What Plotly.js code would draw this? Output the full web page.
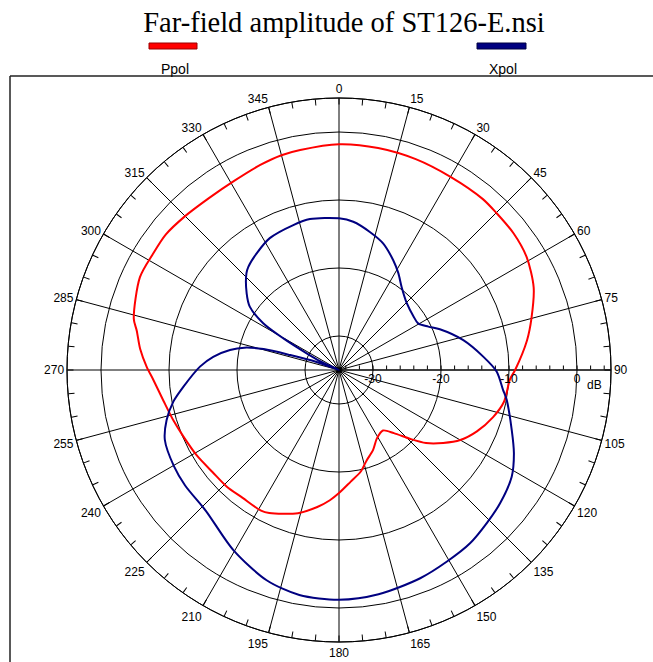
<!DOCTYPE html>
<html>
<head>
<meta charset="utf-8">
<script src="https://cdn.plot.ly/plotly-3.0.1.min.js"></script>
<style>html,body{margin:0;padding:0;background:#fff;}#chart{width:653px;height:662px;}</style>
</head>
<body>
<div id="chart"></div>
<script>
// ---- data ----
const ppolTheta = [0,10,20,30,40,45,52,59,67,75,81,90,93,101,107,114,120,125,130,134,139,144,151,157,163,168,174,180,184,189,196,206,209,217,224,231,239,247,253,260,267,271,276,281,284,295,302,308,315,323,331,339,345,350,360];
const ppolDb = [-1.8,-1.85,-2.0,-2.2,-2.15,-2.3,-2.4,-2.8,-3.9,-5.7,-7.0,-9.1,-9.8,-10.3,-11.3,-12.8,-14.4,-16.3,-18.3,-20.4,-22.7,-24.0,-23.5,-22.2,-21.1,-19.7,-18.5,-16.9,-15.8,-14.6,-13.1,-11.6,-11.35,-11.45,-11.2,-11.1,-10.6,-10.1,-9.55,-8.8,-7.65,-6.7,-5.6,-4.7,-3.9,-2.7,-2.75,-2.66,-3.0,-3.3,-3.2,-2.7,-2.3,-2.15,-1.8];

const xpolTheta = [0,5.5,12.6,19.3,26.3,31.5,37,45.4,54.3,59.5,64.1,68,76.5,84.7,90.6,96.9,100.1,109.2,115.5,121.7,129.6,136.1,142.9,150.7,158.7,170,180,190,199,210.4,223.4,233.1,239.7,248.1,253.8,259.2,263.9,271.4,276,280.4,283.3,285.5,287,289.5,292,295,297.3,299.6,301.7,305.4,309.7,316.3,318.7,324.8,332.3,342.5,349.1,360];
const xpolDb = [-12.7,-13.1,-14.2,-15.3,-17.0,-18.3,-19.7,-21.0,-21.5,-21.5,-20.4,-19.0,-16.2,-13.7,-11.8,-10.7,-9.95,-8.1,-6.5,-5.15,-4.26,-3.7,-3.05,-2.66,-2.13,-1.5,-1.2,-1.4,-2.3,-4.3,-6.5,-6.7,-6.9,-7.4,-8.6,-10.2,-12.0,-14.55,-16.4,-18.7,-20.7,-23.5,-27.5,-31.5,-35,-32,-29.65,-25.6,-21.9,-18.9,-17.35,-15.3,-14.8,-14.0,-13.1,-12.65,-12.4,-12.7];

const seriesNames = ['Ppol','Xpol'];
const seriesColors = ['#ff0000','#000080'];

// ---- axis ticks ----
const spokeAngles = [0,15,30,45,60,75,90,105,120,135,150,165,180,195,210,225,240,255,270,285,300,315,330,345];
const minorAngles = [0,5,10,15,20,25,30,35,40,45,50,55,60,65,70,75,80,85,90,95,100,105,110,115,120,125,130,135,140,145,150,155,160,165,170,175,180,185,190,195,200,205,210,215,220,225,230,235,240,245,250,255,260,265,270,275,280,285,290,295,300,305,310,315,320,325,330,335,340,345,350,355];
const minorAngleText = minorAngles.map(a => (a % 15 === 0 ? String(a) : ''));
const radialRange = [-35, 5];
const radialMajor = [-30, -20, -10, 0];
const radialMajorText = ['-30', '-20', '-10', '0'];
const radialMinor = [-34,-32,-30,-28,-26,-24,-22,-20,-18,-16,-14,-12,-10,-8,-6,-4,-2,0,2,4];

const W = 653, H = 662;
const px = x => x / W;
const py = y => 1 - y / H;
const dom = {x: [px(67), px(611)], y: [py(642), py(98)]};

const traces = [
  {type:'scatterpolar', subplot:'polar', r:[null], theta:[null], mode:'lines', hoverinfo:'skip', showlegend:false},
  {type:'scatterpolar', subplot:'polar2', name:seriesNames[0], r:ppolDb, theta:ppolTheta, mode:'lines',
   line:{color:seriesColors[0], width:2, shape:'spline', smoothing:0.8}},
  {type:'scatterpolar', subplot:'polar2', name:seriesNames[1], r:xpolDb, theta:xpolTheta, mode:'lines',
   line:{color:seriesColors[1], width:2, shape:'spline', smoothing:0.8}}
];

const tickFont = {family:'Liberation Sans, Arial, sans-serif', size:12, color:'#000'};
const legendFont = {family:'Liberation Sans Narrow, Liberation Sans, Arial, sans-serif', size:14, color:'#000'};

const layout = {
  width: W, height: H,
  margin: {l:0, r:0, t:0, b:0},
  paper_bgcolor: '#fff',
  showlegend: false,
  title: {text:'Far-field amplitude of ST126-E.nsi', font:{family:'Liberation Serif, Times New Roman, serif', size:28.5, color:'#000'},
          x: px(344), xanchor:'center', xref:'paper', y: py(22), yanchor:'middle', yref:'paper'},
  polar: {
    domain: dom, bgcolor:'#fff',
    angularaxis: {rotation:90, direction:'clockwise', tickmode:'array', tickvals:minorAngles, ticktext:minorAngleText,
                  ticks:'inside', ticklen:6, tickwidth:1, tickcolor:'#000', showgrid:false,
                  showline:true, linecolor:'#000', linewidth:1, tickfont:tickFont},
    radialaxis: {range:radialRange, angle:0, tickmode:'array', tickvals:radialMinor, ticks:'outside', ticklen:4,
                 tickcolor:'#000', showticklabels:false, showgrid:false, showline:true, linecolor:'#000', side:'counterclockwise'}
  },
  polar2: {
    domain: dom, bgcolor:'rgba(0,0,0,0)',
    angularaxis: {rotation:90, direction:'clockwise', tickmode:'array', tickvals:spokeAngles, showticklabels:false,
                  ticks:'', showgrid:true, gridcolor:'#000', gridwidth:1, showline:true, linecolor:'#000', linewidth:1},
    radialaxis: {range:radialRange, angle:0, tickmode:'array', tickvals:radialMajor, ticktext:radialMajorText, ticks:'',
                 showgrid:true, gridcolor:'#000', gridwidth:1, showline:false, side:'clockwise', tickfont:tickFont}
  },
  shapes: [
    {type:'line', xref:'paper', yref:'paper', x0:px(10), x1:1, y0:py(76), y1:py(76), line:{color:'#222', width:1.5}},
    {type:'line', xref:'paper', yref:'paper', x0:px(10), x1:px(10), y0:0, y1:py(76), line:{color:'#222', width:1.5}},
    {type:'rect', xref:'paper', yref:'paper', x0:px(149), x1:px(197), y0:py(49), y1:py(43), fillcolor:seriesColors[0], line:{color:'#900', width:1}},
    {type:'rect', xref:'paper', yref:'paper', x0:px(477), x1:px(526), y0:py(49), y1:py(43), fillcolor:seriesColors[1], line:{color:'#000040', width:1}}
  ],
  annotations: [
    {text:seriesNames[0], xref:'paper', yref:'paper', x:px(175), y:py(69), showarrow:false, xanchor:'center', yanchor:'middle', font:legendFont},
    {text:seriesNames[1], xref:'paper', yref:'paper', x:px(503), y:py(69), showarrow:false, xanchor:'center', yanchor:'middle', font:legendFont},
    {text:'dB', xref:'paper', yref:'paper', x:px(594), y:py(385), showarrow:false, xanchor:'center', yanchor:'middle', font:tickFont}
  ]
};

Plotly.newPlot('chart', traces, layout, {staticPlot:true, displayModeBar:false});
</script>
</body>
</html>
